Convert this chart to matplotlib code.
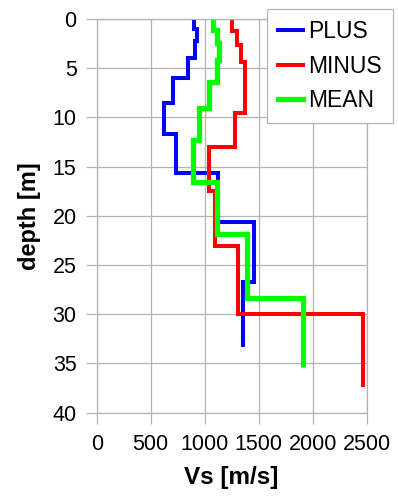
import matplotlib.pyplot as plt
import numpy as np

plt.rcParams['font.family'] = ['Liberation Sans', 'DejaVu Sans']

# layer boundaries [m] and shear-wave velocity per layer [m/s]
plus_depth = [0, 1, 2.2, 4, 6, 8.5, 11.7, 15.6, 20.6, 26.7, 33.3]
plus_vs = [903, 926, 915, 845, 704, 626, 734, 1126, 1459, 1352]

minus_depth = [0, 1.2, 2.6, 4.4, 9.6, 13.0, 17.5, 23.1, 30.0, 37.4]
minus_vs = [1256, 1296, 1336, 1376, 1280, 1040, 1098, 1311, 2469]

mean_depth = [0, 1.1, 2.4, 4.2, 6.4, 9.0, 12.3, 16.6, 21.8, 28.3, 35.4]
mean_vs = [1074, 1117, 1133, 1111, 1040, 947, 889, 1111, 1389, 1907]

x_ticks = np.arange(0, 2501, 500)
y_ticks = np.arange(0, 41, 5)

grey = '#b3b3b3'

fig = plt.figure(figsize=(3.98, 4.97), dpi=100)
ax = fig.add_axes([0.243, 0.1696, 0.678, 0.7922])

ax.stairs(plus_vs, plus_depth, orientation='horizontal', baseline=None,
          color='#0000ff', linewidth=2.9, label='PLUS')
ax.stairs(minus_vs, minus_depth, orientation='horizontal', baseline=None,
          color='#ff0000', linewidth=2.9, label='MINUS')
ax.stairs(mean_vs, mean_depth, orientation='horizontal', baseline=None,
          color='#00ff00', linewidth=3.8, label='MEAN')

ax.set_xlim(0, 2500)
ax.set_ylim(40, 0)
ax.set_xticks(x_ticks)
ax.set_yticks(y_ticks)
ax.grid(True, color=grey, linewidth=0.9)
ax.set_axisbelow(True)
for side, sp in ax.spines.items():
    sp.set_color(grey)
    sp.set_linewidth(0.9)
ax.tick_params(axis='both', direction='out', length=8, width=0.9, color=grey,
               labelsize=15.5, labelcolor='black')
ax.tick_params(axis='x', pad=7.5)
ax.tick_params(axis='y', pad=6.5)

ax.set_xlabel('Vs [m/s]', fontsize=17.5, fontweight='bold', labelpad=8)
ax.set_ylabel('depth [m]', fontsize=17, fontweight='bold', labelpad=8)

leg = ax.legend(loc='upper left', bbox_to_anchor=(267 / 398, 1 - 9.3 / 497),
                bbox_transform=fig.transFigure, borderaxespad=0,
                fontsize=16.5, handlelength=1.1, handletextpad=0.22,
                labelspacing=0.5, borderpad=0.48, fancybox=False,
                framealpha=1, edgecolor=grey)
leg.get_frame().set_linewidth(0.9)

fig.savefig('out.png', dpi=100)
